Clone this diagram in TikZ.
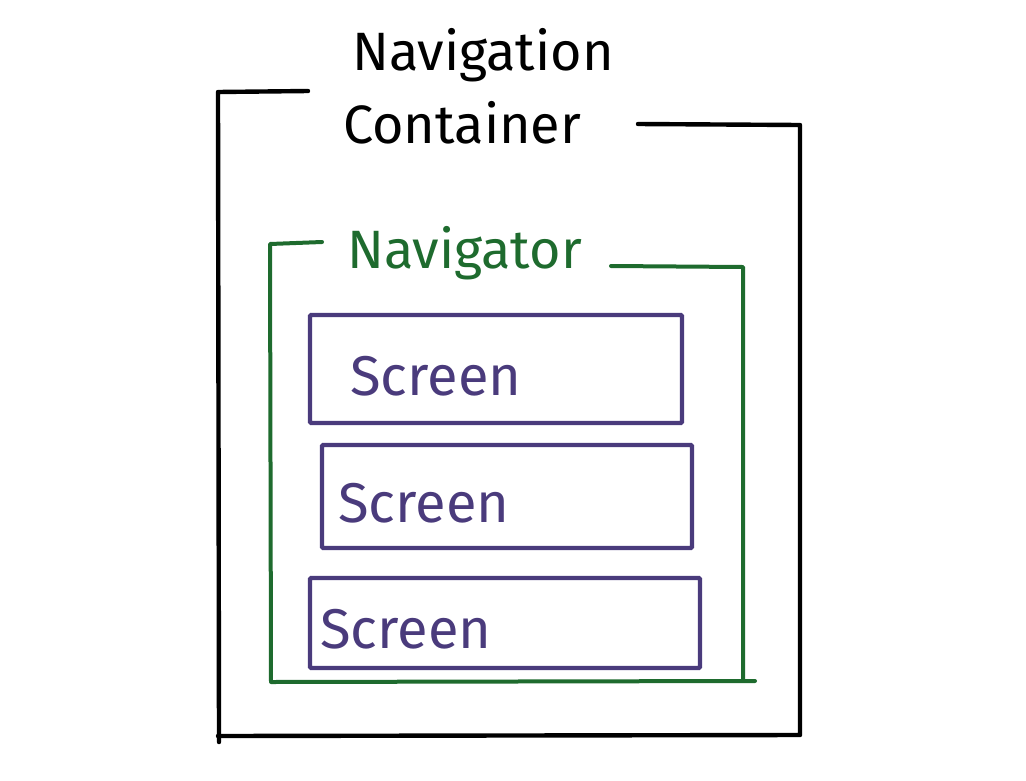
\documentclass[tikz,border=0pt]{standalone}
\usepackage{fontspec}
\setmainfont{Fira Sans}
\definecolor{navgreen}{HTML}{1E6B2E}
\definecolor{scrpurple}{HTML}{4A3B7C}
\begin{document}
\begin{tikzpicture}[x=1pt,y=-1pt,
  frame/.style={line width=4.4pt,line cap=round,line join=round},
  scrbox/.style={draw=scrpurple,line width=4.2pt,rounded corners=1pt,minimum width=#1,inner sep=0pt},
  title/.style={font=\fontsize{54}{58}\selectfont,inner sep=0pt,anchor=base west},
  scrtext/.style={font=\fontsize{56}{60}\selectfont,text=scrpurple,inner sep=0pt,anchor=base west}]
\useasboundingbox (0,0) rectangle (1026,780);
% Navigation container
\node[title] (nct1) at (352,70) {Navigation};
\node[title] (nct2) at (343,143) {Container};
\draw[frame,black] (308,91) -- (218,92) -- (219,742);
\draw[frame,black] (218,736) -- (800,735) -- (800,125) -- (638,124);
% Navigator
\node[title,text=navgreen] (nav) at (347,268) {Navigator};
\draw[frame,navgreen,line width=4pt] (322,242) -- (270,244) -- (271,682) -- (755,681);
\draw[frame,navgreen,line width=4pt] (743,680) -- (743,267) -- (611,266);
% Screens
\node[scrbox=372pt,minimum height=108pt] (s1) at (496,369) {};
\node[scrtext] (s1t) at (350,395) {Screen};
\node[scrbox=370pt,minimum height=103pt] (s2) at (507,496.5) {};
\node[scrtext] (s2t) at (338,522) {Screen};
\node[scrbox=390pt,minimum height=90pt] (s3) at (505,623) {};
\node[scrtext] (s3t) at (320,648) {Screen};
\end{tikzpicture}
\end{document}
